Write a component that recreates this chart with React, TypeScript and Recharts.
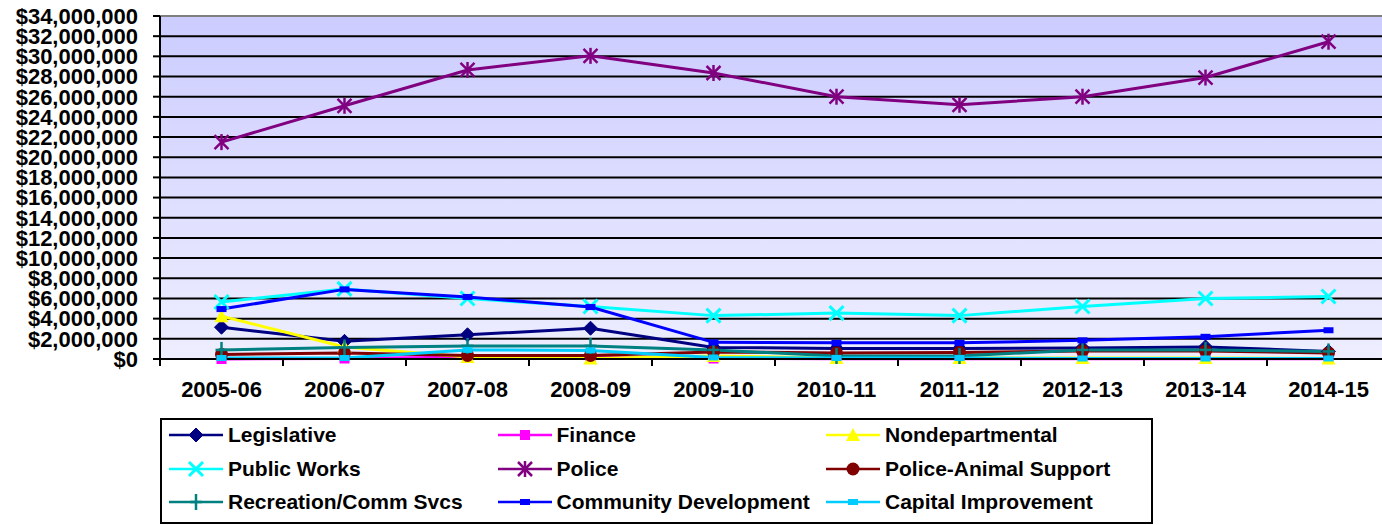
import { LineChart, Line, XAxis, YAxis, CartesianGrid, ReferenceLine, Legend } from 'recharts'

const years = ['2005-06', '2006-07', '2007-08', '2008-09', '2009-10', '2010-11', '2011-12', '2012-13', '2013-14', '2014-15']

// values in dollars (in millions)
const legislative = [3.15, 1.75, 2.4, 3.05, 1.15, 1.05, 1.05, 1.1, 1.2, 0.75]
const finance = [0.0, 0.05, 0.2, 0.2, 0.05, 0.02, 0.02, 0.02, 0.02, 0.02]
const nondepartmental = [4.25, 1.2, 0.2, 0.05, 0.3, 0.1, 0.1, 0.1, 0.1, 0.05]
const publicWorks = [5.65, 6.95, 6.0, 5.2, 4.3, 4.55, 4.3, 5.2, 6.0, 6.2]
const police = [21.5, 25.1, 28.65, 30.05, 28.35, 26.0, 25.2, 26.0, 27.9, 31.45]
const animalSupport = [0.45, 0.6, 0.35, 0.35, 0.7, 0.6, 0.65, 0.8, 0.8, 0.6]
const recreation = [0.9, 1.15, 1.3, 1.3, 0.9, 0.3, 0.3, 0.9, 0.9, 0.75]
const communityDev = [4.95, 6.9, 6.15, 5.15, 1.65, 1.6, 1.6, 1.85, 2.2, 2.85]
const capital = [0.1, 0.1, 0.9, 0.85, 0.15, 0.1, 0.1, 0.05, 0.05, 0.05]

const yTicks = [0, 2, 4, 6, 8, 10, 12, 14, 16, 18, 20, 22, 24, 26, 28, 30, 32, 34].map((m) => m * 1000000)

const SERIES = [
    { key: 'Legislative', values: legislative, color: '#000080', marker: 'diamond' },
    { key: 'Finance', values: finance, color: '#FF00FF', marker: 'square' },
    { key: 'Nondepartmental', values: nondepartmental, color: '#FFFF00', marker: 'triangle' },
    { key: 'Public Works', values: publicWorks, color: '#00FFFF', marker: 'x' },
    { key: 'Police', values: police, color: '#800080', marker: 'star' },
    { key: 'Police-Animal Support', values: animalSupport, color: '#800000', marker: 'circle' },
    { key: 'Recreation/Comm Svcs', values: recreation, color: '#008080', marker: 'plus' },
    { key: 'Community Development', values: communityDev, color: '#0000FF', marker: 'dash' },
    { key: 'Capital Improvement', values: capital, color: '#00CCFF', marker: 'dash' },
]

const data = years.map((year, i) => {
    const row: Record<string, string | number> = { year }
    SERIES.forEach((s) => {
        row[s.key] = Math.round(s.values[i] * 1000000)
    })
    return row
})

const FONT = '"Liberation Sans", Arial, sans-serif'
const CHART_W = 1400
const CHART_H = 525
const MARGIN = { top: 16, right: 10, bottom: 126, left: 0 }
const Y_W = 160
const X_H = 40
const PLOT_BOTTOM = CHART_H - MARGIN.bottom - X_H
const HALF_BAND = (CHART_W - Y_W - MARGIN.right) / years.length / 2

function Marker({ kind, cx, cy, color }: { kind: string; cx: number; cy: number; color: string }) {
    if (cx == null || cy == null) return null
    switch (kind) {
        case 'diamond':
            return <polygon points={`${cx},${cy - 7} ${cx + 7},${cy} ${cx},${cy + 7} ${cx - 7},${cy}`} fill={color} stroke={color} />
        case 'square':
            return <rect x={cx - 5} y={cy - 5} width={10} height={10} fill={color} />
        case 'triangle':
            return <polygon points={`${cx},${cy - 7} ${cx + 7},${cy + 6} ${cx - 7},${cy + 6}`} fill={color} />
        case 'x':
            return (
                <g stroke={color} strokeWidth={3}>
                    <line x1={cx - 7} y1={cy - 7} x2={cx + 7} y2={cy + 7} />
                    <line x1={cx - 7} y1={cy + 7} x2={cx + 7} y2={cy - 7} />
                </g>
            )
        case 'star':
            return (
                <g stroke={color} strokeWidth={2.5}>
                    <line x1={cx - 7} y1={cy - 7} x2={cx + 7} y2={cy + 7} />
                    <line x1={cx - 7} y1={cy + 7} x2={cx + 7} y2={cy - 7} />
                    <line x1={cx} y1={cy - 8} x2={cx} y2={cy + 8} />
                </g>
            )
        case 'circle':
            return <circle cx={cx} cy={cy} r={6.5} fill={color} />
        case 'plus':
            return (
                <g stroke={color} strokeWidth={2.5}>
                    <line x1={cx} y1={cy - 8} x2={cx} y2={cy + 8} />
                    <line x1={cx - 6} y1={cy} x2={cx + 6} y2={cy} />
                </g>
            )
        default:
            return <rect x={cx - 5} y={cy - 3} width={10} height={6} fill={color} />
    }
}

function XTick({ x, payload }: any) {
    return (
        <g>
            {payload.index === 0 && (
                <line x1={x - HALF_BAND} y1={PLOT_BOTTOM} x2={x - HALF_BAND} y2={PLOT_BOTTOM + 7} stroke="#000" strokeWidth={2} />
            )}
            <line x1={x + HALF_BAND} y1={PLOT_BOTTOM} x2={x + HALF_BAND} y2={PLOT_BOTTOM + 7} stroke="#000" strokeWidth={2} />
            <text x={x} y={PLOT_BOTTOM + 38} textAnchor="middle" fontFamily={FONT} fontWeight="bold" fontSize={22} fill="#000">
                {payload.value}
            </text>
        </g>
    )
}

function LegendBox() {
    return (
        <div
            style={{
                position: 'relative',
                width: 993,
                height: 106,
                border: '2px solid #000',
                boxSizing: 'border-box',
                background: '#fff',
                fontFamily: FONT,
                fontWeight: 'bold',
                fontSize: 21,
            }}
        >
            {SERIES.map((s, i) => (
                <div
                    key={s.key}
                    style={{
                        position: 'absolute',
                        left: 7 + (i % 3) * 328.5,
                        top: 3 + Math.floor(i / 3) * 33.5,
                        height: 24,
                        display: 'flex',
                        alignItems: 'center',
                        whiteSpace: 'nowrap',
                    }}
                >
                    <svg width={59} height={24} style={{ overflow: 'visible' }}>
                        <line x1={0} y1={12} x2={54} y2={12} stroke={s.color} strokeWidth={2.5} />
                        <Marker kind={s.marker} cx={27} cy={12} color={s.color} />
                    </svg>
                    <span>{s.key}</span>
                </div>
            ))}
        </div>
    )
}

export default function App() {
    return (
        <div style={{ position: 'absolute', left: 0, top: 0, width: 1382, height: 525, overflow: 'hidden', background: '#fff' }}>
            <LineChart width={CHART_W} height={CHART_H} data={data} margin={MARGIN}>
                <defs>
                    <linearGradient id="plotBg" x1="0" y1="0" x2="0" y2="1">
                        <stop offset="0" stopColor="#CCCCFF" />
                        <stop offset="1" stopColor="#EEEEFF" />
                    </linearGradient>
                </defs>
                <CartesianGrid vertical={false} stroke="#000" strokeWidth={2} fill="url(#plotBg)" fillOpacity={1} />
                <XAxis
                    dataKey="year"
                    scale="band"
                    height={X_H}
                    interval={0}
                    tickLine={false}
                    axisLine={{ stroke: '#000', strokeWidth: 2 }}
                    tick={<XTick />}
                />
                <YAxis
                    width={Y_W}
                    domain={[0, 34000000]}
                    ticks={yTicks}
                    interval={0}
                    tickSize={7}
                    tickMargin={15}
                    tickLine={{ stroke: '#000', strokeWidth: 2 }}
                    axisLine={{ stroke: '#000', strokeWidth: 2 }}
                    tickFormatter={(v: number) => '$' + v.toLocaleString('en-US')}
                    tick={{ fill: '#000', fontFamily: FONT, fontWeight: 'bold', fontSize: 22 }}
                />
                <ReferenceLine y={34000000} stroke="#808080" strokeWidth={2} />
                {SERIES.map((s) => (
                    <Line
                        key={s.key}
                        dataKey={s.key}
                        name={s.key}
                        stroke={s.color}
                        strokeWidth={3}
                        isAnimationActive={false}
                        activeDot={false}
                        dot={(p: any) => <Marker key={`${s.key}-${p.index}`} kind={s.marker} cx={p.cx} cy={p.cy} color={s.color} />}
                    />
                ))}
                <Legend
                    layout="vertical"
                    align="center"
                    verticalAlign="middle"
                    wrapperStyle={{ left: 160, top: 418, width: 993, height: 106 }}
                    content={() => <LegendBox />}
                />
            </LineChart>
        </div>
    )
}
